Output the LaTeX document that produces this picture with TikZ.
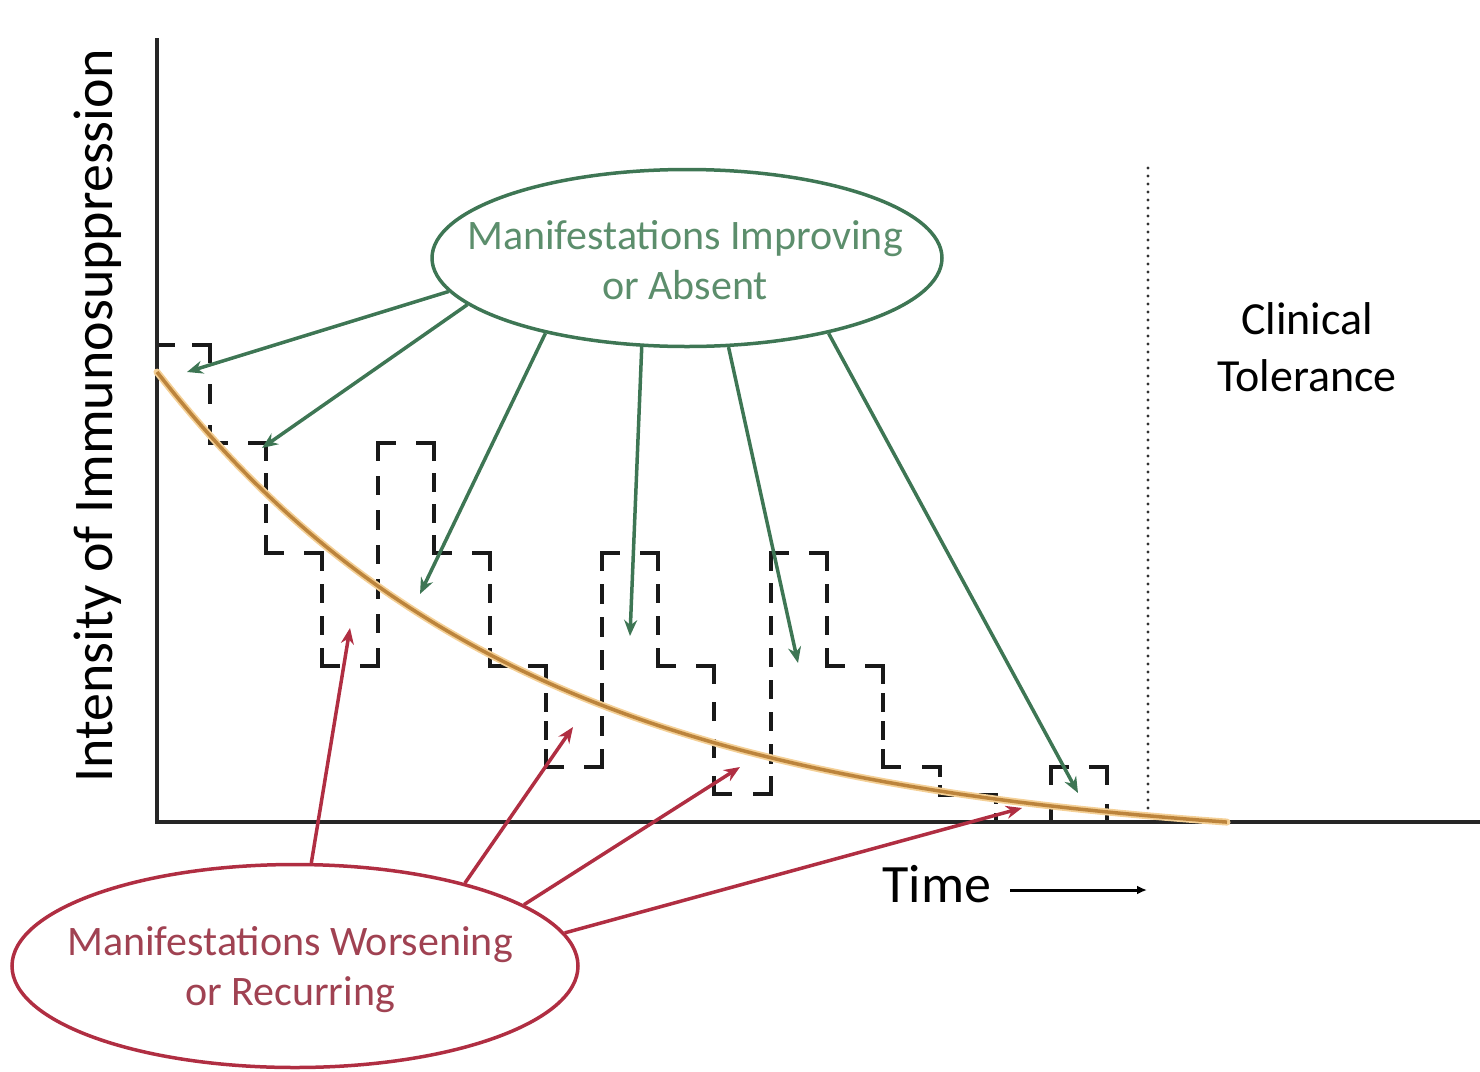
\documentclass[tikz,border=0pt]{standalone}
\usepackage{fontspec}
\setmainfont{Carlito}
\usetikzlibrary{arrows.meta,shapes.geometric}
\definecolor{grn}{RGB}{62,118,84}
\definecolor{grntxt}{RGB}{92,142,108}
\definecolor{rd}{RGB}{176,46,66}
\definecolor{rdtxt}{RGB}{160,66,82}
\definecolor{orng}{RGB}{188,132,60}
\definecolor{orngl}{RGB}{244,208,150}
\begin{document}
\begin{tikzpicture}[x=1pt,y=-1pt,
  axis/.style={line width=4pt,black!85},
  garrow/.style={draw=grn,line width=3.5pt,-{Stealth[length=16pt,width=13pt]}},
  rarrow/.style={draw=rd,line width=3.5pt,-{Stealth[length=16pt,width=13pt]}},
  bubble/.style={ellipse,inner sep=0pt,line width=3.5pt},
  bubbletext/.style={align=center,font=\fontsize{42}{50}\selectfont},
  steps/.style={line width=3.5pt,black!90,line cap=rect},
  dotline/.style={line width=3.2pt,line cap=round,dash pattern=on 0pt off 8pt,black!80},
]
\useasboundingbox (0,0) rectangle (1480,1071);
% axes
\coordinate (ytop) at (157,38);
\coordinate (O) at (157,822);
\coordinate (xend) at (1480,822);
% dotted tolerance line
\coordinate (dTop) at (1148,168);
\coordinate (dBot) at (1148,812);
\draw[dotline] (dTop) -- (dBot);
% dashed step path, segment by segment (each segment starts and ends with a dash)
\foreach \x/\y [remember=\x as \px (initially 157), remember=\y as \py (initially 345)] in
  {210/345, 210/443, 266/443, 266/553, 322/553, 322/666, 378/666, 378/443, 434/443, 434/553,
   490/553, 490/666, 546/666, 546/767, 602/767, 602/553, 658/553, 658/666, 714/666, 714/794,
   771/794, 771/553, 827/553, 827/666, 883/666, 883/767, 940/767, 940/795, 996/795, 996/822,
   1051/822, 1051/767, 1107/767, 1107/822}
{
  \pgfmathsetmacro\seglen{abs(\x-\px)+abs(\y-\py)}
  \pgfmathsetmacro\dashon{min(16,(\seglen-12)/2)}
  \pgfmathtruncatemacro\ndash{max(2,round((\seglen+18)/(\dashon+18)))}
  \pgfmathsetmacro\dashoff{(\seglen-\ndash*\dashon)/(\ndash-1)}
  \ifdim\seglen pt>5pt
    \ifnum\py=822 \ifnum\y=822 \else
      \draw[steps,dash pattern=on \dashon pt off \dashoff pt] (\px,\py) -- (\x,\y);
    \fi\else
      \draw[steps,dash pattern=on \dashon pt off \dashoff pt] (\px,\py) -- (\x,\y);
    \fi
  \fi
}
\draw[axis] (ytop) -- (O) -- (xend);
% orange curve
\draw[orngl,line width=7pt,line cap=round] plot[domain=157:1227,samples=120] (\x,{822-476.5*(exp(-0.0027*(\x-157))-0.0557)});
\draw[orng,line width=3.5pt] plot[domain=157:1227,samples=120] (\x,{822-476.5*(exp(-0.0027*(\x-157))-0.0557)});
% ellipses
\node[bubble,draw=grn,minimum width=510pt,minimum height=177pt] (gE) at (687,258) {};
\node[bubbletext,text=grntxt] (gT) at (685,260) {Manifestations Improving\\or Absent};
\node[bubble,draw=rd,minimum width=566pt,minimum height=203pt] (rE) at (295,966) {};
\node[bubbletext,text=rdtxt] (rT) at (290,970) {Manifestations Worsening\\or Recurring};
% labels
\node[font=\fontsize{46}{57}\selectfont,align=center] (ct) at (1307,347) {Clinical\\Tolerance};
\node[font=\fontsize{54}{60}\selectfont] (time) at (937,884) {Time};
\coordinate (tStart) at (1010,890);
\coordinate (tEnd) at (1147,890);
\draw[line width=3pt,-{Latex[length=10pt,width=9pt]}] (tStart) -- (tEnd);
\node[rotate=90,font=\fontsize{56}{60}\selectfont] (ylab) at (98,416) {Intensity of Immunosuppression};
% green arrows
\coordinate (g1) at (187,372);
\coordinate (g2) at (262,448);
\coordinate (g3) at (420,594);
\coordinate (g4) at (630,636);
\coordinate (g5) at (798,663);
\coordinate (g6) at (1078,793);
\draw[garrow] (gE.188.5) -- (g1);
\draw[garrow] (gE.192.8) -- (g2);
\draw[garrow] (gE.208.2) -- (g3);
\draw[garrow] (gE.243.7) -- (g4);
\draw[garrow] (gE.295.3) -- (g5);
\draw[garrow] (gE.332.5) -- (g6);
% red arrows
\coordinate (r1) at (350,628);
\coordinate (r2) at (573,727);
\coordinate (r3) at (740,767);
\coordinate (r4) at (1022,808);
\draw[rarrow] (rE.81.6) -- (r1);
\draw[rarrow] (rE.26.3) -- (r2);
\draw[rarrow] (rE.15.4) -- (r3);
\draw[rarrow] (rE.7.0) -- (r4);
\end{tikzpicture}
\end{document}
